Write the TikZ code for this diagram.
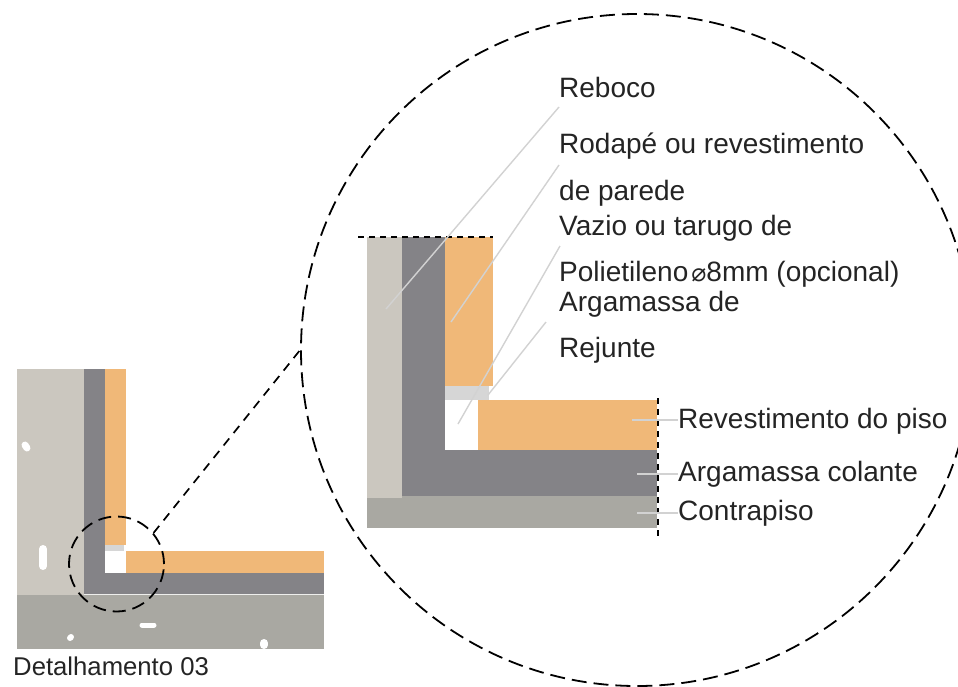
\documentclass[tikz,border=0pt]{standalone}
\usepackage{fontspec}
\setmainfont{Liberation Sans}
\newfontfamily\symfont{DejaVu Sans}
\definecolor{wallcol}{HTML}{CBC7BF}
\definecolor{darkcol}{HTML}{848387}
\definecolor{tilecol}{HTML}{F0B878}
\definecolor{floorcol}{HTML}{A9A8A2}
\definecolor{jointcol}{HTML}{D6D6D6}
\definecolor{leadcol}{HTML}{D2D2D2}
\definecolor{textcol}{HTML}{242424}

\begin{document}
\begin{tikzpicture}[x=1pt, y=-1pt,
    label/.style={anchor=base west, inner sep=0pt, text=textcol, font=\fontsize{28}{30}\selectfont},
    leader/.style={leadcol, line width=1.4pt},
    cut/.style={black, line width=1.6pt, dash pattern=on 6pt off 5pt},
    blob/.style={white, line cap=round},
    ring/.style={circle, draw=black, inner sep=0pt, line width=1.8pt}]
    \useasboundingbox (0,0) rectangle (958,686);

    % small detail
    \fill[wallcol] (17,369) rectangle (84,595);
    \fill[floorcol] (17,595) rectangle (324,649);
    \fill[darkcol] (84,369) rectangle (105,594);
    \fill[darkcol] (105,573) rectangle (324,594);
    \fill[tilecol] (105,369) rectangle (126,545);
    \fill[jointcol] (105,545) rectangle (124,551);
    \fill[tilecol] (126,551) rectangle (324,573);
    \draw[white!80!floorcol, line width=0.8pt] (84,594.5) -- (324,594.5);
    \draw[blob, line width=7pt] (25,445) -- (27,448);
    \draw[blob, line width=8pt] (43,549) -- (43,566);
    \draw[blob, line width=5pt] (142,625) -- (154,625);
    \draw[blob, line width=6pt] (71,637) -- (70,638);
    \draw[blob, line width=8pt] (264,643) -- (264,645);
    \node[label, font=\fontsize{25.7}{27}\selectfont] (lblDetail) at (13,675) {Detalhamento 03};

    % enlarged detail
    \fill[wallcol] (367,237) rectangle (402,498);
    \fill[darkcol] (402,237) rectangle (445,496);
    \fill[darkcol] (445,450) rectangle (657,496);
    \fill[floorcol] (367,498) rectangle (657,528);
    \fill[floorcol] (402,496) rectangle (657,498);
    \fill[tilecol] (445,237) rectangle (493,386);
    \fill[jointcol] (445,386) rectangle (489,400);
    \fill[tilecol] (478,400) rectangle (657,450);
    \coordinate (cutTopA) at (358,237);
    \coordinate (cutTopB) at (493,237);
    \coordinate (cutSideA) at (658,398);
    \coordinate (cutSideB) at (658,540);
    \draw[cut] (cutTopA) -- (cutTopB);
    \draw[cut] (cutSideA) -- (cutSideB);

    % labels
    \node[label] (lblReboco) at (559,97) {Reboco};
    \node[label] (lblRodape) at (559,153) {Rodapé ou revestimento};
    \node[label] (lblParede) at (559,200) {de parede};
    \node[label] (lblVazio) at (559,235) {Vazio ou tarugo de};
    \node[label] (lblPoli) at (559,281) {Polietileno\hspace{3pt}{\symfont\fontsize{25}{25}\selectfont ⌀}8mm (opcional)};
    \node[label] (lblArgamassa) at (559,311) {Argamassa de};
    \node[label] (lblRejunte) at (559,357) {Rejunte};
    \node[label] (lblPiso) at (678,428) {Revestimento do piso};
    \node[label] (lblColante) at (678,481) {Argamassa colante};
    \node[label] (lblContra) at (678,520) {Contrapiso};

    % leaders
    \coordinate (ptReboco) at (386,309);
    \coordinate (endReboco) at (559,107);
    \coordinate (ptRodape) at (451,322);
    \coordinate (endRodape) at (559,165);
    \coordinate (ptVazio) at (458,424);
    \coordinate (endVazio) at (560,246);
    \coordinate (ptRejunte) at (488,395);
    \coordinate (endRejunte) at (546,322);
    \coordinate (ptPiso) at (632,420);
    \coordinate (ptColante) at (637,474);
    \coordinate (ptContra) at (637,513);
    \draw[leader] (ptReboco) -- (endReboco);
    \draw[leader] (ptRodape) -- (endRodape);
    \draw[leader] (ptVazio) -- (endVazio);
    \draw[leader] (ptRejunte) -- (endRejunte);
    \draw[leader] (ptPiso) -- (ptPiso -| lblPiso.west);
    \draw[leader] (ptColante) -- (ptColante -| lblColante.west);
    \draw[leader] (ptContra) -- (ptContra -| lblContra.west);

    % rings
    \node[ring, minimum size=95pt, dash pattern=on 13pt off 7pt] (ringSmall) at (116.5,564) {};
    \node[ring, minimum size=672pt, dash pattern=on 15pt off 7pt] (ringBig) at (637,350) {};
    \draw[black, line width=1.7pt, dash pattern=on 9pt off 7pt] (ringSmall.40) -- (ringBig.180);
\end{tikzpicture}
\end{document}
